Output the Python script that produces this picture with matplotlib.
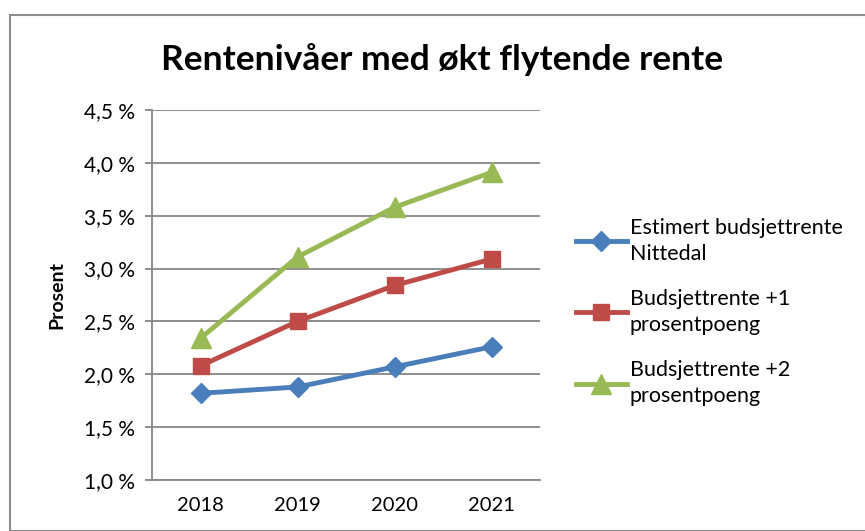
import matplotlib
matplotlib.use('Agg')
import matplotlib.pyplot as plt
from matplotlib.patches import Rectangle
from matplotlib.ticker import FuncFormatter

years = ['2018', '2019', '2020', '2021']
estimert = [1.82, 1.88, 2.07, 2.26]
pluss1 = [2.08, 2.50, 2.84, 3.09]
pluss2 = [2.34, 3.11, 3.58, 3.91]
labels = ['Estimert budsjettrente\nNittedal', 'Budsjettrente +1\nprosentpoeng', 'Budsjettrente +2\nprosentpoeng']
yticks = [1.0, 1.5, 2.0, 2.5, 3.0, 3.5, 4.0, 4.5]

plt.rcParams['font.family'] = ['Lato', 'DejaVu Sans']

W, H = 865, 531
fig = plt.figure(figsize=(W / 100, H / 100), dpi=100)
ax = fig.add_axes([152 / W, 1 - 480 / H, 388 / W, 370 / H])

# outer chart border
fig.patches.append(Rectangle((9.5 / W, 0), 1, 1 - 15 / H, transform=fig.transFigure,
                             fill=False, ec='#8c8c8c', lw=1.5))

x = list(range(len(years)))
ax.plot(x, estimert, color='#4a7ebb', lw=3.5, marker='D', ms=10, label=labels[0])
ax.plot(x, pluss1, color='#be4b48', lw=3.5, marker='s', ms=12, label=labels[1])
ax.plot(x, pluss2, color='#98b954', lw=3.5, marker='^', ms=14, label=labels[2])

ax.set_xlim(-0.5, 3.5)
ax.set_ylim(1.0, 4.5)
ax.set_yticks(yticks)
ax.yaxis.set_major_formatter(FuncFormatter(lambda v, p: f'{v:.1f} %'.replace('.', ',')))
ax.set_xticks(x)
ax.set_xticklabels(years)
ax.grid(axis='y', color='#868686', lw=1.3)
ax.set_axisbelow(True)
for s in ['top', 'right']:
    ax.spines[s].set_visible(False)
for s in ['left', 'bottom']:
    ax.spines[s].set_color('#868686')
    ax.spines[s].set_linewidth(1.3)
ax.tick_params(axis='y', length=5, color='#868686', width=1.3, labelsize=15, pad=7)
ax.tick_params(axis='x', length=0, labelsize=14.5, pad=12)
ax.set_ylabel('Prosent', fontsize=14, fontweight='bold', labelpad=14)

fig.text(442 / W, 1 - 60 / H, 'Rentenivåer med økt flytende rente', ha='center', va='center',
         fontsize=25.5, fontweight='bold')

leg = ax.legend(loc='upper left', bbox_to_anchor=(567 / W, 1 - 209 / H), bbox_transform=fig.transFigure,
                frameon=False, fontsize=15.5, handlelength=2.4, handletextpad=0.12, labelspacing=1.15,
                borderaxespad=0)
for t in leg.get_texts():
    t.set_linespacing(1.4)

fig.savefig('out.png', dpi=100)
